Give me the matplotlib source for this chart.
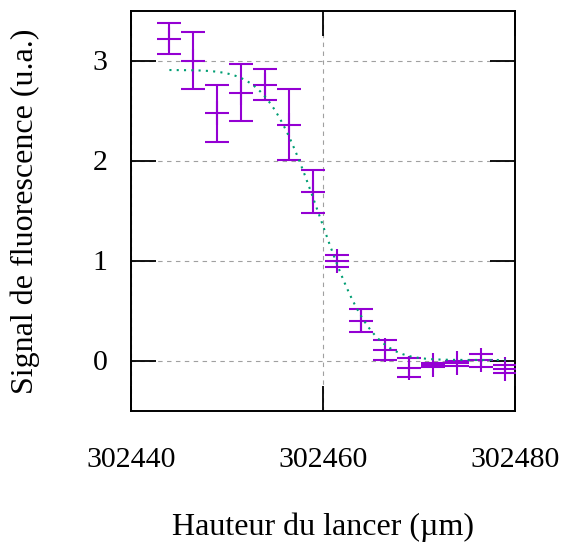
import math
import numpy as np
import matplotlib
matplotlib.use("Agg")
import matplotlib.pyplot as plt
from matplotlib.ticker import FixedLocator, FixedFormatter

# ---- data ----
heights = [302444.0, 302446.5, 302449.0, 302451.5, 302454.0, 302456.5, 302459.0,
           302461.5, 302464.0, 302466.5, 302469.0, 302471.5, 302474.0, 302476.5, 302479.0]
signal = [3.22, 3.00, 2.47, 2.68, 2.76, 2.36, 1.69,
          0.995, 0.40, 0.105, -0.07, -0.045, -0.025, 0.003, -0.085]
signal_err = [0.155, 0.287, 0.287, 0.283, 0.152, 0.357, 0.218,
              0.057, 0.117, 0.10, 0.098, 0.023, 0.025, 0.065, 0.037]

# fitted erf step (model parameters)
fit_amp = 2.9
fit_center = 302459.6
fit_width = 6.0
fit_offset = 0.005
fit_range = (302444.0, 302479.0)

xticks = [302440, 302460, 302480]
xtick_labels = ["302440", "302460", "302480"]
yticks = [0, 1, 2, 3]
ytick_labels = ["0", "1", "2", "3"]
xlim = (302440, 302480)
ylim = (-0.5, 3.5)
xlabel = "Hauteur du lancer (µm)"
ylabel = "Signal de fluorescence (u.a.)"

plt.rcParams['font.family'] = ['Liberation Serif', 'DejaVu Serif']

fig = plt.figure(figsize=(5.61, 5.44), dpi=100)
ax = fig.add_axes([131/561, 1 - 410.5/544, (515-131)/561, 400/544])

purple = "#9400d3"
teal = "#009e73"

ax.errorbar(heights, signal, yerr=signal_err, fmt='+', color=purple,
            markersize=17, markeredgewidth=1.5, elinewidth=1.5,
            capsize=8.6, capthick=1.5, zorder=3)

xf = np.linspace(fit_range[0], fit_range[1], 400)
yf = np.array([fit_offset + fit_amp / 2 * (1 - math.erf((v - fit_center) / fit_width)) for v in xf])
ax.plot(xf, yf, color=teal, lw=1.5, linestyle=(0, (1, 2.5)), zorder=4)

ax.set_xlim(*xlim)
ax.set_ylim(*ylim)
ax.xaxis.set_major_locator(FixedLocator(xticks))
ax.xaxis.set_major_formatter(FixedFormatter(xtick_labels))
ax.yaxis.set_major_locator(FixedLocator(yticks))
ax.yaxis.set_major_formatter(FixedFormatter(ytick_labels))

ax.grid(True, color="#a0a0a0", lw=0.8, linestyle=(0, (4, 4)), zorder=0)
ax.set_axisbelow(True)

ax.tick_params(direction='in', length=18, width=1.3, top=True, right=True,
               labelsize=21.5, colors='black')
ax.tick_params(axis='x', pad=26)
ax.tick_params(axis='y', pad=17)
for s in ax.spines.values():
    s.set_linewidth(1.4)

ax.set_xlabel(xlabel, fontsize=23)
ax.set_ylabel(ylabel, fontsize=23)
ax.xaxis.set_label_coords(0.5, -0.255)
ax.yaxis.set_label_coords(-0.237, 0.497)

fig.savefig("out.png", dpi=100)
